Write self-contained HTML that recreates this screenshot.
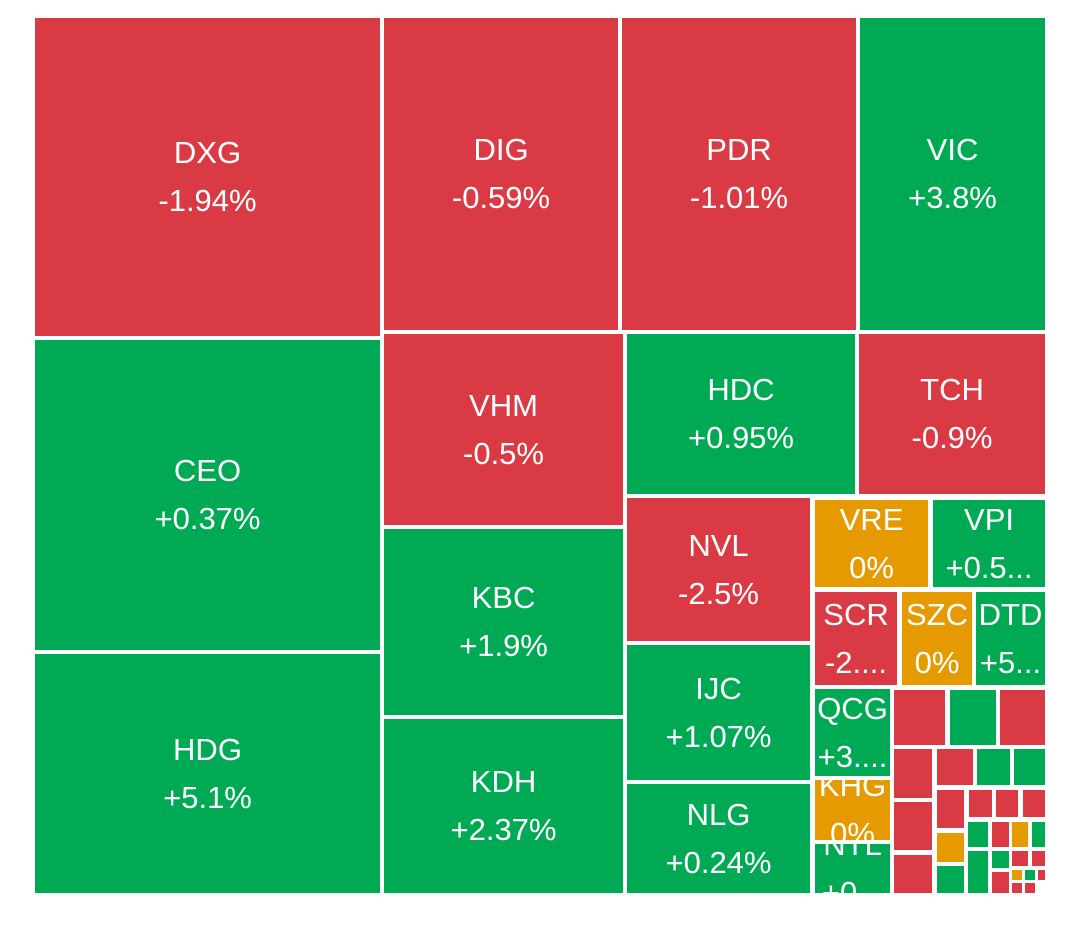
<!DOCTYPE html>
<html><head><meta charset="utf-8">
<style>
html,body{margin:0;padding:0;background:#fff;width:1080px;height:930px;overflow:hidden}
#tm{position:absolute;left:0;top:0;width:1080px;height:930px}
.t{position:absolute;box-sizing:border-box;overflow:hidden;color:#fff;font-family:"Liberation Sans",sans-serif;font-size:31px;text-align:center}
.l{position:absolute;left:0;right:0;white-space:nowrap;line-height:34px}
</style></head><body>
<div id="tm"></div>
<script>
const names=["DXG","CEO","HDG","DIG","PDR","VIC","VHM","KBC","KDH","HDC","TCH","NVL","IJC","NLG","VRE","VPI","SCR","SZC","DTD","QCG","KHG","NTL"];
const changes=["-1.94%","+0.37%","+5.1%","-0.59%","-1.01%","+3.8%","-0.5%","+1.9%","+2.37%","+0.95%","-0.9%","-2.5%","+1.07%","+0.24%","0%","+0.5...","-2....","0%","+5...","+3....","0%","+0..."];
// tile rects [x0,y0,x1,y1]
const rects=[[35,18,380,336],[35,340,380,650],[35,654,380,893],[384,18,618,330],[622,18,856,330],[860,18,1045,330],[384,334,623,525],[384,529,623,715],[384,719,623,893],[627,334,855,494],[859,334,1045,494],[627,498,810,641],[627,645,810,780],[627,784,810,893],[815,500,928,587],[933,500,1045,587],[815,592,897,685],[902,592,972,685],[976,592,1045,685],[815,689,890,776],[815,780,890,840],[815,844,890,893]];
const small=[[894,690,945,745,"r"],[950,690,996,745,"g"],[1000,690,1045,745,"r"],[894,749,932,798,"r"],[937,749,973,785,"r"],[977,749,1010,785,"g"],[1014,749,1045,785,"g"],[894,802,932,850,"r"],[894,855,932,893,"r"],[937,790,964,828,"r"],[937,833,964,862,"o"],[937,866,964,893,"g"],[969,790,992,817,"r"],[996,790,1018,817,"r"],[1023,790,1045,817,"r"],[968,822,988,847,"g"],[992,822,1009,847,"r"],[1012,822,1028,847,"o"],[1032,822,1045,847,"g"],[968,851,988,893,"g"],[992,851,1009,868,"g"],[992,872,1009,893,"r"],[1012,851,1028,866,"r"],[1032,851,1045,866,"r"],[1012,870,1022,880,"o"],[1025,870,1035,880,"g"],[1038,870,1045,880,"r"],[1012,883,1022,893,"r"],[1025,883,1035,893,"r"]];
const C={r:"#da3a44",g:"#00aa55",o:"#e59a00"};
function col(c){return c.startsWith("-")?C.r:(c==="0%"?C.o:C.g);}
const tm=document.getElementById('tm');
names.forEach((n,i)=>{
  const [x0,y0,x1,y1]=rects[i];
  const d=document.createElement('div');
  d.className='t';
  
  
  d.style.left=x0+'px';d.style.top=y0+'px';d.style.width=(x1-x0)+'px';d.style.height=(y1-y0)+'px';
  d.style.background=col(changes[i]);
  const cy=(y1-y0)/2;
  const a=document.createElement('div');a.className='l';a.textContent=n;a.style.top=(cy-41)+'px';
  
  
  const b=document.createElement('div');b.className='l';b.textContent=changes[i];b.style.top=(cy+7)+'px';
  
  
  d.appendChild(a);d.appendChild(b);tm.appendChild(d);
});
small.forEach(s=>{
  const d=document.createElement('div');
  d.className='t';
  
  
  d.style.left=s[0]+'px';d.style.top=s[1]+'px';d.style.width=(s[2]-s[0])+'px';d.style.height=(s[3]-s[1])+'px';
  d.style.background=C[s[4]];
  tm.appendChild(d);
});
</script>
</body></html>
